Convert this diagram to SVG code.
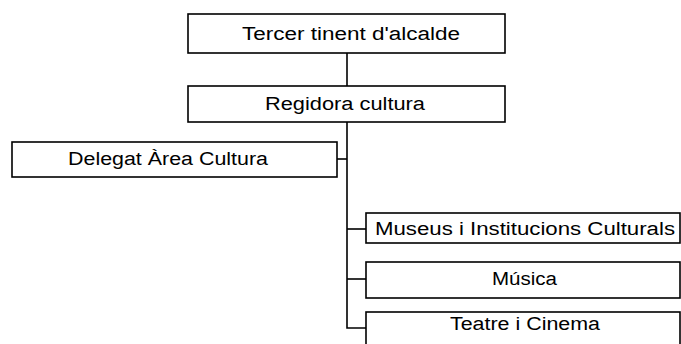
<svg xmlns="http://www.w3.org/2000/svg" width="681" height="344" viewBox="0 0 681 344">
<style>
.box{fill:#fff;stroke:#000;stroke-width:1.6}
.lbl{font-family:"Liberation Sans",Arial,sans-serif;font-size:18px;fill:#000;text-anchor:middle}
.conn{stroke:#000;stroke-width:1.6;fill:none}
</style>
<rect width="681" height="344" fill="#fff"/>
<g id="connectors">
<line class="conn" x1="347" y1="53" x2="347" y2="86"/>
<polyline class="conn" points="347,122 347,328 366,328"/>
<line class="conn" x1="337" y1="159" x2="347" y2="159"/>
<line class="conn" x1="347" y1="229" x2="366" y2="229"/>
<line class="conn" x1="347" y1="279" x2="366" y2="279"/>
</g>
<g id="tercer">
<rect class="box" x="188" y="14" width="317" height="39"/>
<text class="lbl" x="351" y="40" textLength="218" lengthAdjust="spacingAndGlyphs">Tercer tinent d'alcalde</text>
</g>
<g id="regidora">
<rect class="box" x="188" y="86" width="317" height="36"/>
<text class="lbl" x="345" y="110" textLength="160" lengthAdjust="spacingAndGlyphs">Regidora cultura</text>
</g>
<g id="delegat">
<rect class="box" x="12" y="142" width="325" height="35"/>
<text class="lbl" x="168" y="165" textLength="200" lengthAdjust="spacingAndGlyphs">Delegat Àrea Cultura</text>
</g>
<g id="museus">
<rect class="box" x="366" y="213" width="314" height="30"/>
<text class="lbl" x="525" y="235" textLength="300" lengthAdjust="spacingAndGlyphs">Museus i Institucions Culturals</text>
</g>
<g id="musica">
<rect class="box" x="366" y="262" width="314" height="36"/>
<text class="lbl" x="524.5" y="285" textLength="65" lengthAdjust="spacingAndGlyphs">Música</text>
</g>
<g id="teatre">
<rect class="box" x="366" y="312" width="314" height="40"/>
<text class="lbl" x="525" y="330" textLength="150" lengthAdjust="spacingAndGlyphs">Teatre i Cinema</text>
</g>
</svg>
